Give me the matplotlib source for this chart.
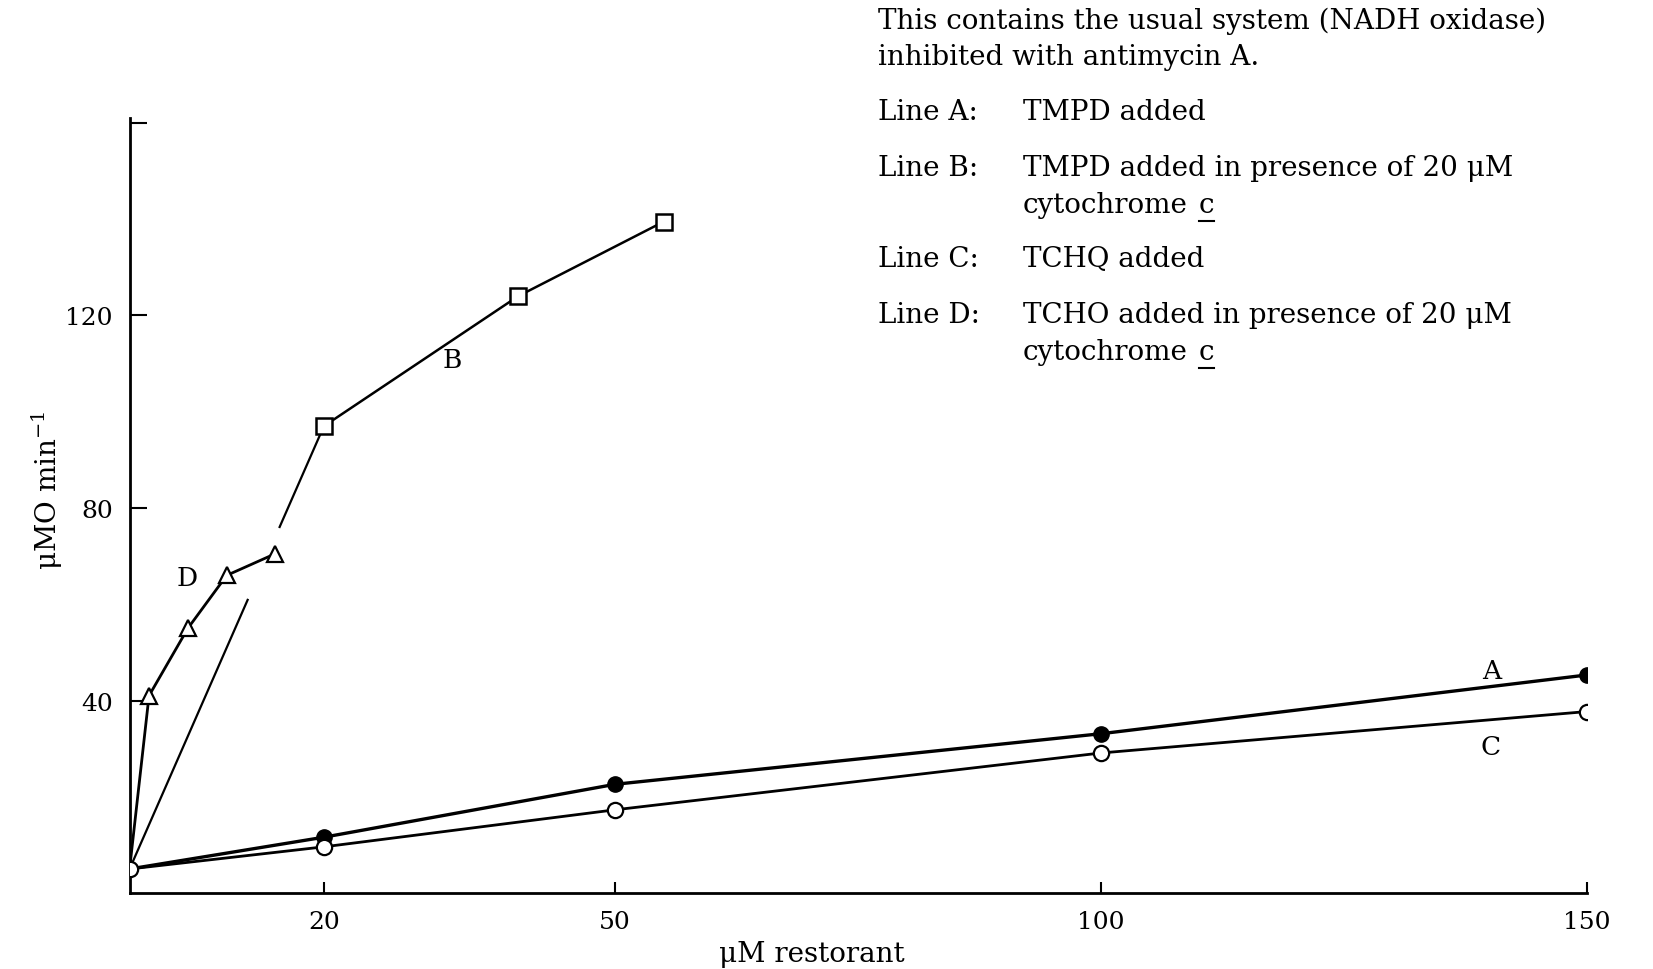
import matplotlib
matplotlib.use("Agg")
import matplotlib.pyplot as plt

plt.rcParams["font.family"] = ["DejaVu Serif"]
plt.rcParams["mathtext.fontset"] = "dejavuserif"
plt.rcParams["lines.scale_dashes"] = False

# data (uM restorant vs uMO/min)
a_x = [0, 20, 50, 100, 150]
a_y = [5, 11.6, 22.6, 33.1, 45.3]
c_x = [0, 20, 50, 100, 150]
c_y = [5, 9.6, 17.3, 29.1, 37.7]
b_x = [0, 20, 40, 55]
b_y = [5, 97, 124, 139.5]
d_x = [0, 2, 6, 10, 15]
d_y = [5, 41, 55, 66, 70.5]

xticks = [20, 50, 100, 150]
yticks = [40, 80, 120, 160]
ytick_labels = ["40", "80", "120", ""]

notes = [
    "This contains the usual system (NADH oxidase)",
    "inhibited with antimycin A.",
]
legend_rows = [
    ("Line A:", "TMPD added", False),
    ("Line B:", "TMPD added in presence of 20 \u03bcM", False),
    ("", "cytochrome", True),
    ("Line C:", "TCHQ added", False),
    ("Line D:", "TCHO added in presence of 20 \u03bcM", False),
    ("", "cytochrome", True),
]

fig = plt.figure(figsize=(16.53, 9.70), dpi=100)
ax = fig.add_axes([0.0784, 0.0783, 0.8814, 0.7989])
ax.set_xlim(0, 150)
ax.set_ylim(0, 161)

fs = 18
fs_txt = 20

# line B: first segment is broken where it crosses line D
fig.canvas.draw()
p0 = ax.transData.transform((b_x[0], b_y[0]))
p1 = ax.transData.transform((b_x[1], b_y[1]))
seg = ((p1 - p0) ** 2).sum() ** 0.5 * 72 / fig.dpi
ax.plot(b_x[:2], b_y[:2], color="black", lw=1.6,
        linestyle=(0, (0.61 * seg, 0.16 * seg, 2 * seg, 0.01 * seg)), zorder=2)
ax.plot(b_x[1:], b_y[1:], color="black", lw=1.8, marker="s", ms=12,
        mfc="white", mec="black", mew=1.8, zorder=3)

ax.plot(d_x, d_y, color="black", lw=2.0, marker="^", ms=11,
        mfc="white", mec="black", mew=1.6, markevery=slice(1, None), zorder=3)
ax.plot(a_x, a_y, color="black", lw=2.4, marker="o", ms=11,
        mfc="black", mec="black", markevery=slice(1, None), zorder=3)
ax.plot(c_x, c_y, color="black", lw=2.0, marker="o", ms=11,
        mfc="white", mec="black", mew=1.6, zorder=4)

ax.text(33.2, 110.8, "B", fontsize=fs + 1, ha="center", va="center")
ax.text(5.9, 65.5, "D", fontsize=fs + 1, ha="center", va="center")
ax.text(140.2, 46.2, "A", fontsize=fs + 1, ha="center", va="center")
ax.text(140.1, 30.4, "C", fontsize=fs + 1, ha="center", va="center")

for s in ["top", "right"]:
    ax.spines[s].set_visible(False)
for s in ["left", "bottom"]:
    ax.spines[s].set_linewidth(2)

ax.set_xticks(xticks)
ax.set_xticklabels([str(t) for t in xticks])
ax.set_yticks(yticks)
ax.set_yticklabels(ytick_labels)
ax.tick_params(axis="x", direction="in", length=8, width=1.5, pad=12, labelsize=fs)
ax.tick_params(axis="y", direction="in", length=12, width=1.5, pad=12, labelsize=fs)

fig.text(0.0287, 0.4946, "\u03bcMO min$^{-1}$", rotation=90, fontsize=fs_txt,
         ha="center", va="center")
fig.text(0.491, 0.0163, "\u03bcM restorant", fontsize=fs_txt, ha="center", va="center")

# notes in the upper right
x_left = 833 / 1568
x_col = 970 / 1568
note_y = [1 - 20 / 920, 1 - 55 / 920]
row_y = [1 - v / 920 for v in [107, 160, 195, 246, 299, 334]]
for txt, y in zip(notes, note_y):
    fig.text(x_left, y, txt, fontsize=fs_txt, ha="left", va="center")

fig.canvas.draw()
renderer = fig.canvas.get_renderer()
for (lab, txt, under), y in zip(legend_rows, row_y):
    if lab:
        fig.text(x_left, y, lab, fontsize=fs_txt, ha="left", va="center")
    t = fig.text(x_col, y, txt, fontsize=fs_txt, ha="left", va="center")
    if under:
        bb = t.get_window_extent(renderer)
        xc = (bb.x1 + 0.4 * fs_txt * fig.dpi / 72) / fig.bbox.width
        tc = fig.text(xc, y, "c", fontsize=fs_txt, ha="left", va="center")
        cb = tc.get_window_extent(renderer)
        uy = (cb.y0 - 3) / fig.bbox.height
        fig.add_artist(plt.Line2D([cb.x0 / fig.bbox.width, cb.x1 / fig.bbox.width],
                                  [uy, uy], color="black", lw=1.5,
                                  transform=fig.transFigure))

fig.savefig("out.png", dpi=100, facecolor="white")
